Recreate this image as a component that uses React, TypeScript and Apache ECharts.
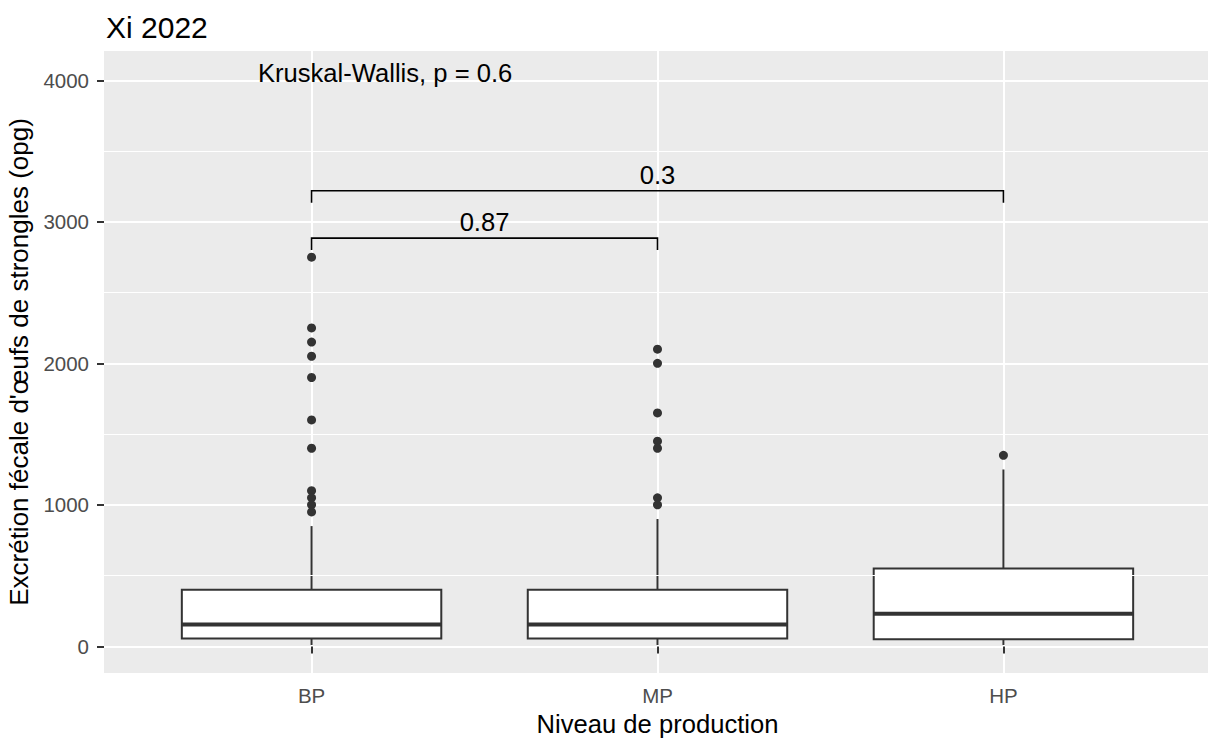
import React, { useEffect, useRef } from "react";
import * as echarts from "echarts";

const categories = ["BP", "MP", "HP"];
// [lower whisker, Q1, median, Q3, upper whisker]
const bpStats = [10, 55, 155, 400, 850];
const mpStats = [10, 55, 155, 400, 900];
const hpStats = [10, 50, 230, 550, 1250];
const bpOutliers = [2750, 2250, 2150, 2050, 1900, 1600, 1400, 1100, 1050, 1000, 950];
const mpOutliers = [2100, 2000, 1650, 1450, 1400, 1050, 1000];
const hpOutliers = [1350];
const yTicks = [0, 1000, 2000, 3000, 4000];
const yMinorLines = [500, 1500, 2500, 3500];
const comparisons = [["BP", "MP"], ["BP", "HP"]];
const comparisonP = ["0.87", "0.3"];
const bracketY = [2885, 3220];
const bracketTip = 85;
const kruskalLabel = "Kruskal-Wallis, p = 0.6";
const kruskalPos = [0.845, 4055];

const FONT = "'Liberation Sans', Arial, sans-serif";

export default function App() {
  const ref = useRef<HTMLDivElement>(null);
  useEffect(() => {
    if (!ref.current) return;
    const chart = echarts.init(ref.current, null, { renderer: "svg" });
    const stats = [bpStats, mpStats, hpStats];
    const outs = [bpOutliers, mpOutliers, hpOutliers];
    const boxData = categories.map((c, i) => [i + 1, ...stats[i]]);
    const outlierData: number[][] = [];
    outs.forEach((arr, i) => arr.forEach((v) => outlierData.push([i + 1, v])));
    const bracketData = comparisons.map((cmp, i) => [
      categories.indexOf(cmp[0]) + 1,
      categories.indexOf(cmp[1]) + 1,
      bracketY[i],
    ]);
    const half = 0.375;
    const boxColor = "#333333";

    chart.setOption({
      animation: false,
      backgroundColor: "#ffffff",
      textStyle: { fontFamily: FONT },
      title: {
        text: "Xi 2022",
        left: 101,
        top: 7,
        textStyle: { fontFamily: FONT, fontSize: 30, fontWeight: "normal", color: "#000000" },
      },
      grid: {
        left: 104,
        top: 51,
        width: 1107,
        height: 622,
        show: true,
        backgroundColor: "#EBEBEB",
        borderWidth: 0,
        outerBoundsMode: "none",
        containLabel: false,
      },
      xAxis: {
        type: "value",
        min: 0.4,
        max: 3.6,
        name: "Niveau de production",
        nameLocation: "middle",
        nameGap: 37,
        nameTextStyle: { fontFamily: FONT, fontSize: 25.6, color: "#000000" },
        axisLine: { show: false },
        axisTick: { show: true, customValues: [1, 2, 3], length: 7, lineStyle: { color: "#333333", width: 2 } },
        axisLabel: {
          customValues: [1, 2, 3],
          formatter: (v: number) => categories[Math.round(v) - 1] ?? "",
          fontFamily: FONT,
          fontSize: 20.5,
          color: "#4D4D4D",
          margin: 12,
        },
        splitLine: { show: true, lineStyle: { color: "#ffffff", width: 2 } },
      },
      yAxis: {
        type: "value",
        min: -188,
        max: 4207,
        name: "Excrétion fécale d'œufs de strongles (opg)",
        nameLocation: "middle",
        nameGap: 69,
        nameTextStyle: { fontFamily: FONT, fontSize: 26, color: "#000000" },
        axisLine: { show: false },
        axisTick: { show: true, customValues: yTicks, length: 7, lineStyle: { color: "#333333", width: 2 } },
        axisLabel: {
          customValues: yTicks,
          formatter: (v: number) => String(Math.round(v)),
          fontFamily: FONT,
          fontSize: 20.5,
          color: "#4D4D4D",
          margin: 15,
        },
        splitLine: { show: true, lineStyle: { color: "#ffffff", width: 2 } },
      },
      series: [
        {
          type: "line",
          data: [],
          z: 1,
          silent: true,
          markLine: {
            silent: true,
            symbol: ["none", "none"],
            label: { show: false },
            lineStyle: { color: "#ffffff", width: 1, type: "solid" },
            data: yMinorLines.map((v) => ({ yAxis: v })),
          },
        },
        {
          type: "custom",
          z: 3,
          data: boxData,
          encode: { x: 0, y: [1, 2, 3, 4, 5] },
          renderItem: (params: any, api: any) => {
            const x = api.value(0);
            const lo = api.value(1), q1 = api.value(2), med = api.value(3), q3 = api.value(4), hi = api.value(5);
            const tl = api.coord([x - half, q3]);
            const br = api.coord([x + half, q1]);
            const pLo = api.coord([x, lo]);
            const pHi = api.coord([x, hi]);
            const mL = api.coord([x - half, med]);
            const mR = api.coord([x + half, med]);
            return {
              type: "group",
              children: [
                { type: "line", shape: { x1: pHi[0], y1: pHi[1], x2: pHi[0], y2: tl[1] }, style: { stroke: boxColor, lineWidth: 2 } },
                { type: "line", shape: { x1: pLo[0], y1: pLo[1], x2: pLo[0], y2: br[1] }, style: { stroke: boxColor, lineWidth: 2 } },
                { type: "rect", shape: { x: tl[0], y: tl[1], width: br[0] - tl[0], height: br[1] - tl[1] }, style: { fill: "#ffffff", stroke: boxColor, lineWidth: 2 } },
                { type: "line", shape: { x1: mL[0], y1: mL[1], x2: mR[0], y2: mR[1] }, style: { stroke: boxColor, lineWidth: 4 } },
              ],
            };
          },
        },
        {
          type: "scatter",
          z: 4,
          data: outlierData,
          symbol: "circle",
          symbolSize: 9,
          itemStyle: { color: "#333333", opacity: 1 },
          silent: true,
        },
        {
          type: "custom",
          z: 5,
          data: bracketData,
          encode: { x: [0, 1], y: 2 },
          renderItem: (params: any, api: any) => {
            const x1 = api.value(0), x2 = api.value(1), y = api.value(2);
            const a = api.coord([x1, y]);
            const b = api.coord([x2, y]);
            const a2 = api.coord([x1, y - bracketTip]);
            const b2 = api.coord([x2, y - bracketTip]);
            const mid = api.coord([(x1 + x2) / 2, y]);
            return {
              type: "group",
              children: [
                { type: "polyline", shape: { points: [a2, a, b, b2] }, style: { stroke: "#000000", lineWidth: 1.6, fill: "none" } },
                {
                  type: "text",
                  x: mid[0],
                  y: mid[1] - 3,
                  style: { text: comparisonP[params.dataIndex], fontFamily: FONT, fontSize: 25.6, fill: "#000000", align: "center", verticalAlign: "bottom" },
                },
              ],
            };
          },
        },
        {
          type: "custom",
          z: 5,
          data: [kruskalPos],
          encode: { x: 0, y: 1 },
          renderItem: (params: any, api: any) => {
            const p = api.coord([api.value(0), api.value(1)]);
            return {
              type: "text",
              x: p[0],
              y: p[1],
              style: { text: kruskalLabel, fontFamily: FONT, fontSize: 25.6, fill: "#000000", align: "left", verticalAlign: "middle" },
            };
          },
        },
      ],
    });
    return () => chart.dispose();
  }, []);
  return <div ref={ref} style={{ position: "fixed", left: 0, top: 0, width: 1208, height: 742 }} />;
}
